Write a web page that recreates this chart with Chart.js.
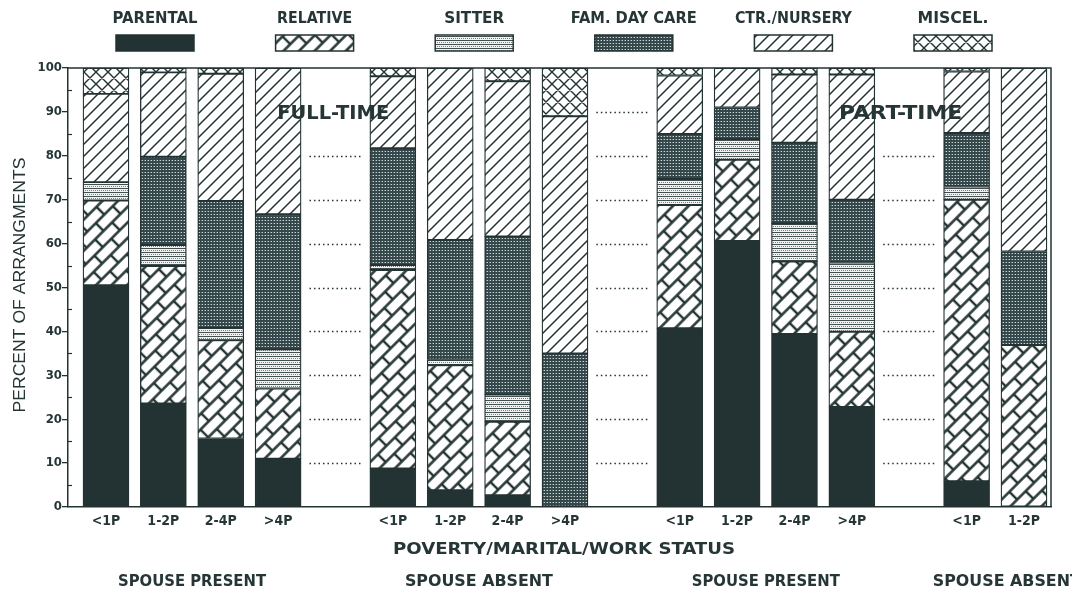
<!DOCTYPE html>
<html>
<head>
<meta charset="utf-8">
<script src="https://cdn.jsdelivr.net/npm/chart.js@4.4.1/dist/chart.umd.min.js"></script>
<style>
  body { margin: 0; background: #fff; }
  #wrap { width: 1072px; height: 598px; }
</style>
</head>
<body>
<div id="wrap"><canvas id="chart" width="1072" height="598"></canvas></div>
<script>
// Data (percent of arrangements)
const barLabels = ['<1P', '1-2P', '2-4P', '>4P', '<1P', '1-2P', '2-4P', '>4P',
                   '<1P', '1-2P', '2-4P', '>4P', '<1P', '1-2P'];
const barSlots = [0, 1, 2, 3, 5, 6, 7, 8, 10, 11, 12, 13, 15, 16];
const gapSlots = [4, 9, 14];
const groupLabels = ['SPOUSE PRESENT', 'SPOUSE ABSENT', 'SPOUSE PRESENT', 'SPOUSE ABSENT'];
const groupCenters = [1.5, 6.5, 11.5, 15.7];
const workLabels = ['FULL-TIME', 'PART-TIME'];
const workCenters = [3.96, 13.85];
const yTicks = [0, 10, 20, 30, 40, 50, 60, 70, 80, 90, 100];

const parental   = [50.5, 23.6, 15.6, 11.0,  8.8,  3.8,  2.7,  0.0, 40.7, 60.6, 39.4, 22.8,  5.9,  0.0];
const relative   = [19.3, 31.3, 22.4, 16.0, 45.2, 28.5, 16.7,  0.0, 28.1, 18.5, 16.5, 17.1, 64.1, 36.9];
const sitter     = [ 4.2,  4.8,  2.8,  8.9,  1.1,  1.3,  6.2,  0.0,  5.9,  4.7,  8.7, 15.8,  3.0,  0.0];
const famDayCare = [ 0.0, 20.1, 28.9, 30.8, 26.6, 27.2, 36.0, 35.0, 10.3,  7.2, 18.4, 14.3, 12.2, 21.3];
const ctrNursery = [20.1, 19.2, 29.0, 33.3, 16.4, 39.2, 35.4, 54.0, 13.3,  9.0, 15.5, 28.5, 14.0, 41.8];
const miscel     = [ 5.9,  1.0,  1.3,  0.0,  1.9,  0.0,  3.0, 11.0,  1.7,  0.0,  1.5,  1.5,  0.8,  0.0];

const seriesNames = ['PARENTAL', 'RELATIVE', 'SITTER', 'FAM. DAY CARE', 'CTR./NURSERY', 'MISCEL.'];
const seriesValues = [parental, relative, sitter, famDayCare, ctrNursery, miscel];

// Styles
const DARK = '#233232';
const INK = '#263535';
const FONT_B = '"Liberation Sans Narrow", "DejaVu Sans Condensed", "Arial Narrow", sans-serif';
const FONT_R = '"Liberation Sans", "DejaVu Sans", sans-serif';

const canvas = document.getElementById('chart');
const mainCtx = canvas.getContext('2d');

// Pattern fills
function tile(w, h, draw) {
    const c = document.createElement('canvas');
    c.width = w; c.height = h;
    draw(c.getContext('2d'), w, h);
    return c;
}
function pattern(t, angle) {
    const p = mainCtx.createPattern(t, 'repeat');
    if (angle) p.setTransform(new DOMMatrix().rotate(angle));
    return p;
}

const solidFill = DARK;

const brickFill = pattern(tile(24, 22, (g) => {
    g.fillStyle = '#fff'; g.fillRect(0, 0, 24, 22);
    g.strokeStyle = DARK; g.lineWidth = 2.4;
    g.beginPath();
    g.moveTo(0, 5.5); g.lineTo(24, 5.5);
    g.moveTo(0, 16.5); g.lineTo(24, 16.5);
    g.moveTo(6, 5.5); g.lineTo(6, 16.5);
    g.moveTo(18, 16.5); g.lineTo(18, 22);
    g.moveTo(18, 0); g.lineTo(18, 5.5);
    g.stroke();
}), -45);

// rows of light beads between dark dotted rules
const sitterFill = pattern(tile(4, 4, (g) => {
    g.fillStyle = '#f2f2f2'; g.fillRect(0, 0, 4, 4);
    g.fillStyle = 'rgba(35,50,50,0.85)';
    g.fillRect(0, 0, 4, 1);
    g.fillStyle = 'rgba(35,50,50,0.6)';
    g.fillRect(1, 2, 1, 1); g.fillRect(3, 2, 1, 1);
}));

const famFill = pattern(tile(3, 3, (g) => {
    g.fillStyle = '#34474a'; g.fillRect(0, 0, 3, 3);
    g.fillStyle = '#cfd6d6'; g.fillRect(1, 1, 1, 1);
    g.fillStyle = '#6f7e80'; g.fillRect(0, 1, 1, 1);
}));

const hatchFill = pattern(tile(12, 12, (g) => {
    g.fillStyle = '#fff'; g.fillRect(0, 0, 12, 12);
    g.strokeStyle = DARK; g.lineWidth = 1.5;
    g.beginPath();
    g.moveTo(-3, 15); g.lineTo(15, -3);
    g.moveTo(-3, 3); g.lineTo(3, -3);
    g.moveTo(9, 15); g.lineTo(15, 9);
    g.stroke();
}));

const crossFill = pattern(tile(12, 12, (g) => {
    g.fillStyle = '#fff'; g.fillRect(0, 0, 12, 12);
    g.strokeStyle = DARK; g.lineWidth = 1.4;
    g.beginPath();
    g.moveTo(-3, 15); g.lineTo(15, -3);
    g.moveTo(-3, 3); g.lineTo(3, -3);
    g.moveTo(9, 15); g.lineTo(15, 9);
    g.moveTo(-3, -3); g.lineTo(15, 15);
    g.moveTo(-3, 9); g.lineTo(3, 15);
    g.moveTo(9, -3); g.lineTo(15, 3);
    g.stroke();
}));

const fills = [solidFill, brickFill, sitterFill, famFill, hatchFill, crossFill];

// Text squeezed / stretched to a given width
function fitText(ctx, text, x, y, width, font, rotate) {
    ctx.save();
    ctx.font = font;
    ctx.fillStyle = INK;
    ctx.textAlign = 'center';
    ctx.textBaseline = 'middle';
    const w = ctx.measureText(text).width;
    ctx.translate(x, y);
    if (rotate) ctx.rotate(-Math.PI / 2);
    ctx.scale(width / w, 1);
    ctx.fillText(text, 0, 0);
    ctx.restore();
}

const legendWidths = [85, 75, 60, 126, 117, 71];

const decor = {
    id: 'decor',
    beforeDraw(chart) {
        const c = chart.ctx;
        c.save();
        c.fillStyle = '#fff';
        c.fillRect(0, 0, chart.width, chart.height);
        c.restore();
    },
    beforeDatasetsDraw(chart) {
        const { ctx, scales: { x, y } } = chart;
        ctx.save();
        ctx.strokeStyle = DARK;
        ctx.lineWidth = 1.3;
        ctx.setLineDash([1.5, 3]);
        gapSlots.forEach((s, gi) => {
            const cx = x.getPixelForValue(s);
            yTicks.forEach(v => {
                if (v === 0 || v === 100) return;
                if (v === 90 && gi !== 1) return; // covered by FULL-TIME / PART-TIME
                const py = Math.round(y.getPixelForValue(v)) + 0.5;
                ctx.beginPath();
                ctx.moveTo(cx - 26, py);
                ctx.lineTo(cx + 26, py);
                ctx.stroke();
            });
        });
        ctx.restore();
    },
    afterDraw(chart) {
        const { ctx, chartArea: a, scales: { x, y } } = chart;
        ctx.save();
        // frame (top and right)
        ctx.strokeStyle = DARK;
        ctx.lineWidth = 1.5;
        ctx.beginPath();
        ctx.moveTo(a.left, a.top);
        ctx.lineTo(a.right, a.top);
        ctx.lineTo(a.right, a.bottom);
        ctx.stroke();
        // minor ticks at 5s
        ctx.lineWidth = 1.2;
        for (let v = 5; v < 100; v += 10) {
            const py = Math.round(y.getPixelForValue(v)) + 0.5;
            ctx.beginPath();
            ctx.moveTo(a.left, py);
            ctx.lineTo(a.left + 4, py);
            ctx.stroke();
        }
        ctx.restore();

        // FULL-TIME / PART-TIME
        const workW = [112, 123];
        workLabels.forEach((t, i) => {
            fitText(ctx, t, x.getPixelForValue(workCenters[i]), y.getPixelForValue(89.5), workW[i], 'bold 19px ' + FONT_B);
        });

        // legend
        seriesNames.forEach((name, i) => {
            const cx = 155 + i * 159.6;
            fitText(ctx, name, cx, 19, legendWidths[i], 'bold 16px ' + FONT_B);
            ctx.save();
            ctx.fillStyle = fills[i];
            ctx.fillRect(cx - 39, 35, 78, 16);
            ctx.strokeStyle = DARK;
            ctx.lineWidth = 1.5;
            ctx.strokeRect(cx - 39, 35, 78, 16);
            ctx.restore();
        });

        // axis titles
        fitText(ctx, 'PERCENT OF ARRANGMENTS', 20, 285, 255, '17px ' + FONT_R, true);
        fitText(ctx, 'POVERTY/MARITAL/WORK STATUS', 564, 550, 342, 'bold 16px ' + FONT_B);

        // group labels
        groupLabels.forEach((t, i) => {
            fitText(ctx, t, x.getPixelForValue(groupCenters[i]), 582, 148, 'bold 15px ' + FONT_B);
        });
    }
};

const datasets = seriesNames.map((name, i) => ({
    label: name,
    data: seriesValues[i].map((v, j) => ({ x: barSlots[j], y: v })),
    backgroundColor: fills[i],
    borderColor: DARK,
    borderWidth: 1.3,
    borderSkipped: false,
    barThickness: 46
}));

new Chart(mainCtx, {
    type: 'bar',
    data: { datasets },
    options: {
        responsive: false,
        animation: false,
        devicePixelRatio: 1,
        layout: { padding: { left: 0, right: 21, top: 68, bottom: 0 } },
        plugins: {
            legend: { display: false },
            tooltip: { enabled: false }
        },
        scales: {
            x: {
                type: 'linear',
                stacked: true,
                offset: false,
                min: -0.662,
                max: 16.471,
                afterBuildTicks(s) { s.ticks = barSlots.map(v => ({ value: v })); },
                afterFit(s) { s.height = 91; },
                ticks: {
                    autoSkip: false,
                    maxRotation: 0,
                    padding: 6,
                    color: INK,
                    font: { family: FONT_B, size: 14, weight: 'bold' },
                    callback(v) { return barLabels[barSlots.indexOf(v)]; }
                },
                grid: { display: false, drawTicks: false },
                border: { color: DARK, width: 1.5 }
            },
            y: {
                stacked: true,
                min: 0,
                max: 100,
                afterBuildTicks(s) { s.ticks = yTicks.map(v => ({ value: v })); },
                afterFit(s) { s.width = 68; },
                ticks: {
                    padding: 0,
                    color: INK,
                    font: { family: FONT_B, size: 13, weight: 'bold' }
                },
                grid: { drawOnChartArea: false, tickLength: 6, color: DARK, lineWidth: 1.3 },
                border: { color: DARK, width: 1.5 }
            }
        }
    },
    plugins: [decor]
});
</script>
</body>
</html>
